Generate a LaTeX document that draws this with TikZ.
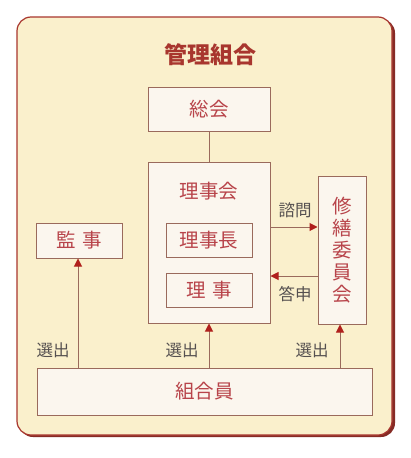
\documentclass[tikz,border=0pt]{standalone}
\usepackage{fontspec}
\setmainfont{Noto Sans CJK JP}
\usetikzlibrary{arrows.meta}
\definecolor{framered}{HTML}{A8362E}
\definecolor{cream}{HTML}{FAF0CC}
\definecolor{boxfill}{HTML}{FBF6EE}
\definecolor{boxline}{HTML}{9A6A5C}
\definecolor{boxtext}{HTML}{B8444A}
\definecolor{tipred}{HTML}{B0201C}
\definecolor{labelgray}{HTML}{555050}
\tikzset{
  box/.style={draw=boxline, fill=boxfill, line width=1pt, inner sep=0pt,
    text=boxtext, font=\fontsize{19.5}{22}\selectfont},
  link/.style={draw=boxline, line width=1pt},
  arr/.style={link, -{Triangle[length=8pt,width=8pt,color=tipred]}},
  lbl/.style={text=labelgray, font=\fontsize{16.5}{18}\selectfont, inner sep=0pt}
}
\begin{document}
\begin{tikzpicture}[x=1pt,y=-1pt]
  \useasboundingbox[fill=white] (0,0) rectangle (410,458);
  % frame
  \fill[framered!80!black, rounded corners=14pt] (19,19) rectangle (395,437);
  \draw[framered, fill=cream, line width=1.2pt, rounded corners=14pt] (17,17) rectangle (392,435);
  \node[text=framered, font=\fontsize{23}{26}\selectfont\bfseries] (title) at (210,55) {管理組合};
  % boxes
  \node[box, minimum width=122pt, minimum height=44pt] (soukai) at (209,109) {総会};
  \node[box, minimum width=122pt, minimum height=161pt] (rijikai) at (209,242.5) {};
  \node[text=boxtext, font=\fontsize{19.5}{22}\selectfont] (rijikaitxt) at (209,191) {理事会};
  \node[box, minimum width=86pt, minimum height=34pt] (rijicho) at (209,240) {理事長};
  \node[box, minimum width=86pt, minimum height=34pt] (riji) at (209,290) {理\,\,事};
  \node[box, minimum width=48pt, minimum height=148pt, align=center,
    font=\fontsize{19.5}{22}\selectfont] (shuzen) at (342,250) {修\\繕\\委\\員\\会};
  \node[box, minimum width=86pt, minimum height=35pt] (kanji) at (79,240.5) {監\,\,事};
  \node[box, minimum width=335pt, minimum height=47pt] (kumiaiin) at (204.5,391.5) {組合員};
  % connectors
  \draw[link] (soukai.south) -- (rijikai.north);
  \coordinate (ask) at ([yshift=15.5pt]rijikai.east);
  \coordinate (answer) at ([yshift=-33.5pt]rijikai.east);
  \draw[arr] (ask) -- (ask -| shuzen.west);
  \draw[arr] (answer -| shuzen.west) -- (answer);
  \node[lbl] (shimon) at (295,210) {諮問};
  \node[lbl] (toushin) at (295,294) {答申};
  \draw[arr] (kumiaiin.north -| 78,0) -- (kanji.south -| 78,0);
  \draw[arr] (kumiaiin.north -| rijikai.south) -- (rijikai.south);
  \draw[arr] (kumiaiin.north -| 340,0) -- (shuzen.south -| 340,0);
  \node[lbl] (senshutsu1) at (53,350) {選出};
  \node[lbl] (senshutsu2) at (182,350) {選出};
  \node[lbl] (senshutsu3) at (312,350) {選出};
\end{tikzpicture}
\end{document}
